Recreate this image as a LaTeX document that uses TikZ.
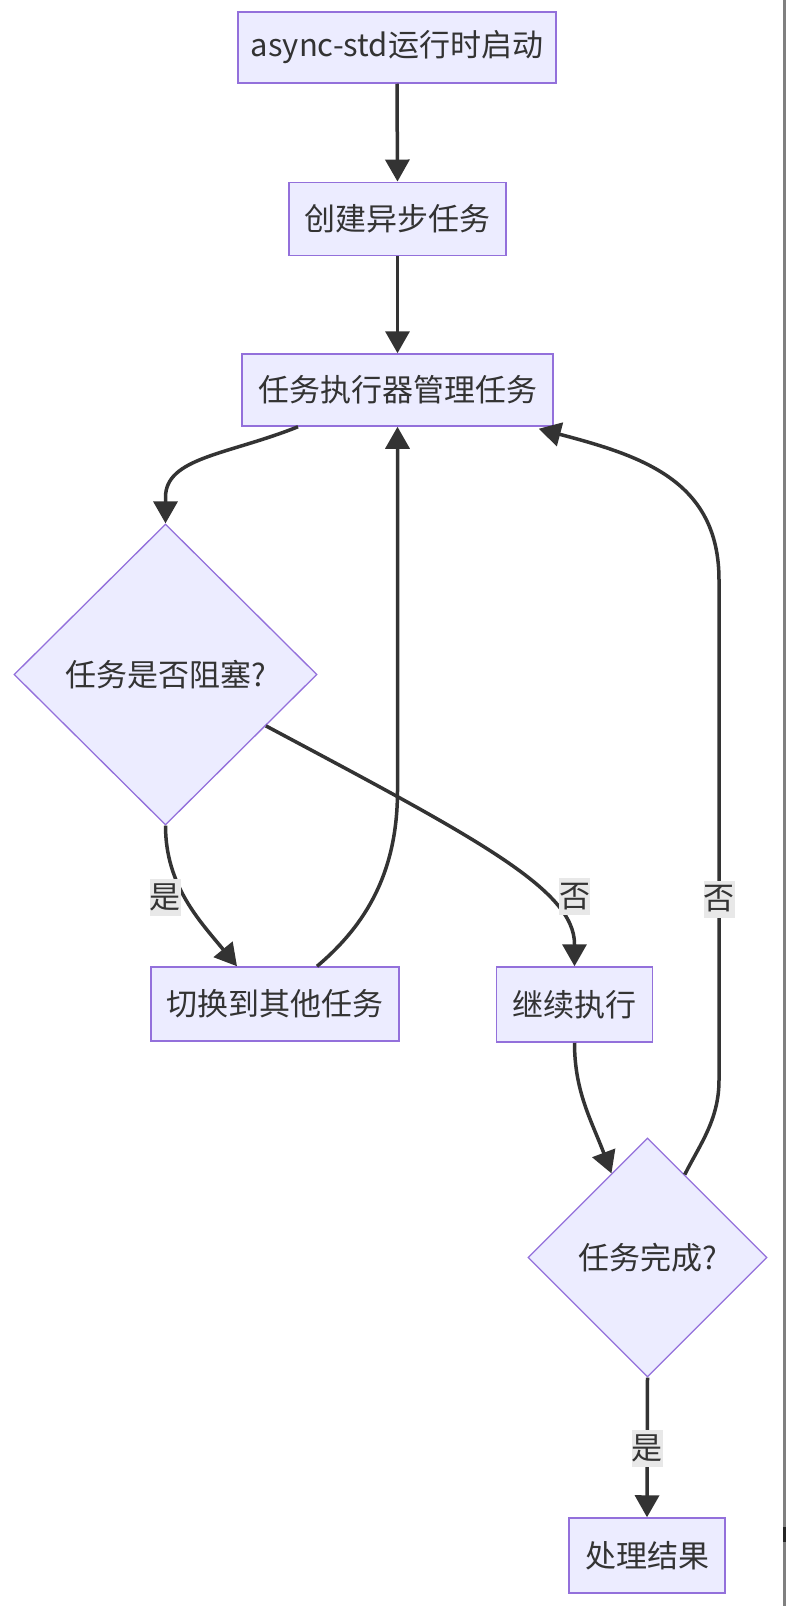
\documentclass[tikz,border=0pt]{standalone}
\usepackage{fontspec}
\setmainfont{Noto Sans CJK SC}
\usetikzlibrary{shapes.geometric,arrows.meta,calc}
\definecolor{nodefill}{HTML}{ECECFF}
\definecolor{nodeline}{HTML}{9370DB}
\definecolor{edgecol}{HTML}{333333}
\definecolor{labelbg}{HTML}{E8E8E8}
\definecolor{txt}{HTML}{333333}
\definecolor{sidebar}{HTML}{808080}
\tikzset{
  box/.style={draw=nodeline, fill=nodefill, line width=1.5pt, inner sep=0pt,
    text=txt, font=\fontsize{31}{37}\selectfont, align=center},
  dia/.style={diamond, draw=nodeline, fill=nodefill, line width=1.3pt, inner sep=0pt,
    text=txt, font=\fontsize{31}{37}\selectfont, align=center},
  edge/.style={draw=edgecol, line width=3.5pt, -{Triangle[length=22pt,width=24pt]}},
  elabel/.style={fill=labelbg, inner sep=0pt, minimum width=31pt, minimum height=37pt,
    text=txt, font=\fontsize{31}{37}\selectfont},
}
\begin{document}
\begin{tikzpicture}[x=1pt,y=-1pt]
\useasboundingbox (0,0) rectangle (786,1606);
\fill[white] (0,0) rectangle (786,1606);
\fill[sidebar] (783,0) rectangle (786,1606);
\fill[black!85] (783,1527) rectangle (786,1542);

% nodes
\node[box, minimum width=318pt, minimum height=71pt] (n1) at (397,47.5) {async-std运行时启动};
\node[box, minimum width=217pt, minimum height=73pt] (n2) at (397.5,218.8) {创建异步任务};
\node[box, minimum width=311pt, minimum height=72pt] (n3) at (397.5,390) {任务执行器管理任务};
\node[dia, minimum width=303pt, minimum height=301pt] (d1) at (165.5,674.5) {任务是否阻塞?};
\node[box, minimum width=248pt, minimum height=74pt] (n4) at (275,1004) {切换到其他任务};
\node[box, minimum width=156pt, minimum height=75pt] (n5) at (574.5,1004.5) {继续执行};
\node[dia, minimum width=239pt, minimum height=239pt] (d2) at (647.5,1257.5) {任务完成?};
\node[box, minimum width=156pt, minimum height=75pt] (n6) at (647,1555.5) {处理结果};

% connectors
\draw[edge] (n1.south) -- (n2.north);
\draw[edge] (n2.south) -- (n3.north);
\draw[edge] ($(n3.south)+(-99.5,0)$) .. controls +(-70,28) and +(0,-40) .. ($(d1.north)+(0,-26)$) -- (d1.north);
\draw[edge] (d1.south) .. controls +(0,60) and ($(n4.north)+(-75,-45)$) .. ($(n4.north)+(-38,0)$);
\draw[edge] ($(n4.north)+(42,0)$) .. controls +(50,-42) and +(0,80) .. ($(n3.south)+(0,364)$) -- (n3.south);
\draw[edge] ($(d1.east)!0.34!(d1.south)$) .. controls +(210,112) and +(0,-55) .. ($(n5.north)+(0,-22)$) -- (n5.north);
\draw[edge] (n5.south) .. controls +(0,49) and +(-20,-53) .. ($(d2.north)!0.3!(d2.west)$);
\draw[edge] ($(d2.north)!0.31!(d2.east)$) .. controls +(15,-30) and +(0,40) .. (719,1080) -- (719,580) .. controls +(0,-100) and +(102,27) .. ($(n3.south east)+(-15,2)$);
\draw[edge] (d2.south) -- (n6.north);

% edge labels
\node[elabel] (l1) at (165,897) {是};
\node[elabel] (l2) at (574.5,896.5) {否};
\node[elabel] (l3) at (719,899) {否};
\node[elabel] (l4) at (647,1448) {是};
\end{tikzpicture}
\end{document}
